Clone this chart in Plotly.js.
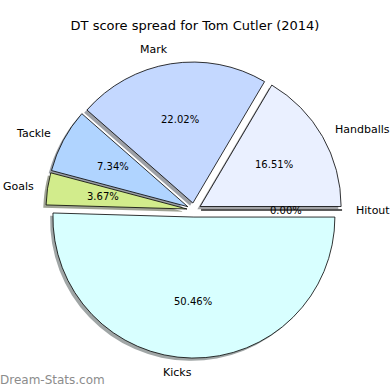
<!DOCTYPE html>
<html>
<head>
<meta charset="utf-8">
<script src="https://cdn.plot.ly/plotly-3.0.1.min.js"></script>
<style>html,body{margin:0;padding:0;background:#fff;}#chart{width:390px;height:390px;}</style>
</head>
<body>
<div id="chart"></div>
<script>
const chartTitle = "DT score spread for Tom Cutler (2014)";
const categories = ["Hitout", "Handballs", "Mark", "Tackle", "Goals", "Kicks"];
const dtPoints = [0, 18, 24, 8, 4, 55];
const sliceColors = ["#ffffff", "#eaf0ff", "#c4d8ff", "#b0d4ff", "#d2ec8c", "#d8ffff"];
const watermark = "Dream-Stats.com";

// pie geometry (pixels): centre, radius, explode fraction
const W = 390, H = 390, cx = 194, cy = 210, R = 141, PULL = 0.05;
const dom = (dx, dy) => {
  const half = R * (1 + PULL);
  return {
    x: [(cx - half + dx) / W, (cx + half + dx) / W],
    y: [(H - cy - half - dy) / H, (H - cy + half - dy) / H]
  };
};
const shadowColor = c => {
  const n = parseInt(c.slice(1), 16);
  return "rgba(" + [(n >> 16) & 255, (n >> 8) & 255, n & 255].map(v => Math.round(v * 0.3)).join(",") + ",0.5)";
};
const common = {
  type: "pie", labels: categories, values: dtPoints, sort: false,
  direction: "counterclockwise", rotation: 90, pull: categories.map(() => PULL),
  hoverinfo: "skip", showlegend: false, textinfo: "none"
};
const shadow = Object.assign({}, common, {
  domain: dom(-2.8, 2.8),
  marker: {colors: sliceColors.map(shadowColor), line: {width: 0}}
});
const main = Object.assign({}, common, {
  domain: dom(0, 0),
  marker: {colors: sliceColors, line: {color: "#000", width: 0.8}}
});

// labels placed like the pie's own wedge labels: from cumulative shares
const total = dtPoints.reduce((a, b) => a + b, 0);
const annotations = [];
let cum = 0;
dtPoints.forEach((v, i) => {
  const frac = v / total;
  const mid = 2 * Math.PI * (cum + frac / 2);
  cum += frac;
  const ox = cx + PULL * R * Math.cos(mid), oy = cy - PULL * R * Math.sin(mid);
  const lx = ox + 1.1 * R * Math.cos(mid), ly = oy - 1.1 * R * Math.sin(mid);
  const px = ox + 0.6 * R * Math.cos(mid), py = oy - 0.6 * R * Math.sin(mid);
  const right = Math.cos(mid) > 0;
  annotations.push({
    text: categories[i], xref: "paper", yref: "paper", x: lx / W, y: 1 - ly / H,
    xanchor: right ? "left" : "right", xshift: right ? -2 : 2, yanchor: "middle", showarrow: false,
    font: {family: "DejaVu Sans", size: 11, color: "#000"}
  });
  annotations.push({
    text: (frac * 100).toFixed(2) + "%", xref: "paper", yref: "paper", x: px / W, y: 1 - py / H,
    xanchor: "center", yanchor: "middle", showarrow: false,
    font: {family: "DejaVu Sans", size: 10, color: "#000"}
  });
});
annotations.push({text: watermark, xref: "paper", yref: "paper", x: 0, y: 1 - 380 / H,
  xanchor: "left", xshift: -2, yanchor: "middle", showarrow: false,
  font: {family: "DejaVu Sans", size: 12, color: "#8c8c8c"}});

Plotly.newPlot("chart", [shadow, main], {
  width: 390, height: 390,
  margin: {l: 0, r: 0, t: 0, b: 0},
  paper_bgcolor: "#fff",
  title: {text: chartTitle, x: 0.5, xanchor: "center", y: 1 - 25 / 390, yanchor: "middle",
          font: {family: "DejaVu Sans", size: 13, color: "#000"}},
  annotations: annotations
}, {staticPlot: true});
</script>
</body>
</html>
